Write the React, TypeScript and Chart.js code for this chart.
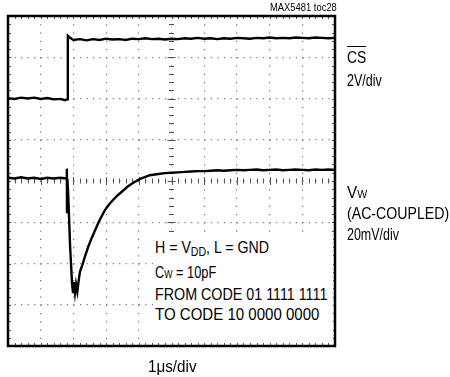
import React, { useEffect, useLayoutEffect, useRef } from "react";
import { Chart, registerables } from "chart.js";

Chart.register(...registerables);

// Time axis in divisions (1 µs/div), vertical axis in divisions (centre = 0)
const csTime = [0, 0.2, 0.4, 0.6, 0.8, 1.0, 1.2, 1.4, 1.6, 1.75, 1.81, 1.83, 1.9, 2.0, 2.2, 2.4, 2.6, 2.8, 3.0, 3.2, 3.4, 3.6, 3.8, 4.0, 4.2, 4.4, 4.6, 4.8, 5.0, 5.2, 5.4, 5.6, 5.8, 6.0, 6.2, 6.4, 6.6, 6.8, 7.0, 7.2, 7.4, 7.6, 7.8, 8.0, 8.2, 8.4, 8.6, 8.8, 9.0, 9.2, 9.4, 9.6, 9.8, 10];
const csLevel = [2.01, 1.99, 2.02, 2.0, 2.02, 1.99, 2.01, 1.98, 1.99, 1.96, 1.98, 3.52, 3.47, 3.42, 3.44, 3.41, 3.44, 3.42, 3.45, 3.43, 3.44, 3.42, 3.45, 3.44, 3.46, 3.44, 3.45, 3.43, 3.45, 3.44, 3.46, 3.45, 3.47, 3.45, 3.46, 3.44, 3.46, 3.45, 3.47, 3.46, 3.45, 3.47, 3.46, 3.48, 3.46, 3.47, 3.46, 3.48, 3.47, 3.46, 3.48, 3.47, 3.46, 3.47];

const vwTime = [0, 0.2, 0.4, 0.6, 0.8, 1.0, 1.2, 1.4, 1.6, 1.78, 1.8, 1.805, 1.815, 1.84, 1.9, 1.96, 1.99, 2.02, 2.05, 2.08, 2.12, 2.16, 2.2, 2.28, 2.35, 2.45, 2.56, 2.66, 2.76, 2.86, 2.97, 3.09, 3.21, 3.35, 3.48, 3.65, 3.82, 4.04, 4.2, 4.34, 4.6, 4.8, 5.0, 5.2, 5.4, 5.6, 5.8, 6.0, 6.2, 6.4, 6.6, 6.8, 7.0, 7.2, 7.4, 7.6, 7.8, 8.0, 8.2, 8.4, 8.6, 8.8, 9.0, 9.2, 9.4, 9.6, 9.8, 10];
const vwLevel = [0.08, 0.06, 0.09, 0.06, 0.08, 0.05, 0.08, 0.06, 0.08, 0.06, 0.3, -0.75, 0.05, -0.3, -1.6, -2.5, -2.72, -2.45, -2.7, -2.5, -2.68, -2.42, -2.2, -2.02, -1.84, -1.6, -1.38, -1.2, -1.02, -0.86, -0.7, -0.57, -0.46, -0.35, -0.26, -0.14, -0.05, 0.05, 0.1, 0.14, 0.17, 0.19, 0.2, 0.21, 0.22, 0.23, 0.24, 0.24, 0.25, 0.26, 0.25, 0.26, 0.27, 0.26, 0.27, 0.28, 0.26, 0.27, 0.28, 0.26, 0.27, 0.28, 0.27, 0.26, 0.28, 0.27, 0.28, 0.27];

const xDivisions = 10;
const yHalfDivisions = 4;

const scopeGrid = {
  id: "scopeGrid",
  beforeDatasetsDraw(chart: any) {
    const { ctx, chartArea: a, scales } = chart;
    const x = scales.x;
    const y = scales.y;
    const xc = x.getPixelForValue(xDivisions / 2);
    const yc = y.getPixelForValue(0);
    ctx.save();
    ctx.strokeStyle = "#555";
    ctx.lineWidth = 1;
    const seg = (x1: number, y1: number, x2: number, y2: number) => {
      ctx.beginPath();
      ctx.moveTo(x1, y1);
      ctx.lineTo(x2, y2);
      ctx.stroke();
    };
    for (let i = 0; i <= xDivisions * 5; i++) {
      const px = Math.round(x.getPixelForValue(i / 5)) + 0.5;
      const len = i % 5 === 0 ? 4 : 2.5;
      seg(px, yc - len, px, yc + len);
      seg(px, a.bottom, px, a.bottom - 3);
      seg(px, a.top, px, a.top + 3);
    }
    for (let j = -yHalfDivisions * 5; j <= yHalfDivisions * 5; j++) {
      const py = Math.round(y.getPixelForValue(j / 5)) + 0.5;
      const len = j % 5 === 0 ? 4 : 2.5;
      seg(xc - len, py, xc + len, py);
      seg(a.left, py, a.left + 3, py);
      seg(a.right, py, a.right - 3, py);
    }
    ctx.restore();
  },
  afterDatasetsDraw(chart: any) {
    const { ctx, chartArea: a } = chart;
    ctx.save();
    ctx.strokeStyle = "#000";
    ctx.lineWidth = 2.5;
    ctx.strokeRect(a.left, a.top, a.right - a.left, a.bottom - a.top);
    ctx.restore();
  },
};

const FONT = "'Liberation Sans', Arial, sans-serif";

const baseText: React.CSSProperties = {
  position: "absolute",
  fontFamily: FONT,
  fontSize: "16.8px",
  lineHeight: 1,
  color: "#000",
  whiteSpace: "nowrap",
};

function FitText(props: { width: number; style: React.CSSProperties; origin?: string; children: React.ReactNode }) {
  const ref = useRef<HTMLDivElement | null>(null);
  useLayoutEffect(() => {
    const el = ref.current;
    if (!el) return;
    const w = el.offsetWidth;
    if (w > 0) el.style.transform = `scaleX(${props.width / w})`;
  });
  return (
    <div ref={ref} style={{ ...baseText, ...props.style, transformOrigin: props.origin || "0 0" }}>
      {props.children}
    </div>
  );
}

export default function App() {
  const canvasRef = useRef<HTMLCanvasElement | null>(null);

  useEffect(() => {
    const canvas = canvasRef.current;
    if (!canvas) return;
    const chart = new Chart(canvas, {
      type: "line",
      data: {
        datasets: [
          {
            label: "CS",
            data: csTime.map((t, i) => ({ x: t, y: csLevel[i] })),
            borderColor: "#000",
            borderWidth: 2.4,
            pointRadius: 0,
            tension: 0,
          },
          {
            label: "VW",
            data: vwTime.map((t, i) => ({ x: t, y: vwLevel[i] })),
            borderColor: "#000",
            borderWidth: 2.4,
            pointRadius: 0,
            tension: 0,
          },
        ],
      },
      options: {
        animation: false,
        responsive: false,
        events: [],
        layout: { padding: { left: 8, top: 16, right: 115, bottom: 31 } },
        plugins: { legend: { display: false }, tooltip: { enabled: false } },
        scales: {
          x: {
            type: "linear",
            min: 0,
            max: xDivisions,
            ticks: { display: false, stepSize: 1 },
            grid: { color: "#777", lineWidth: 1.2, drawTicks: false },
            border: { display: false, dash: [1.2, 7.05] },
          },
          y: {
            type: "linear",
            min: -yHalfDivisions,
            max: yHalfDivisions,
            ticks: { display: false, stepSize: 1 },
            grid: { color: "#777", lineWidth: 1.2, drawTicks: false },
            border: { display: false, dash: [1.2, 5.34] },
          },
        },
      },
      plugins: [scopeGrid],
    });
    return () => chart.destroy();
  }, []);

  return (
    <div style={{ position: "fixed", left: 0, top: 0, width: 450, height: 377, background: "#fff", overflow: "hidden" }}>
      <canvas ref={canvasRef} width={450} height={377} style={{ position: "absolute", left: 0, top: 0 }} />
      <FitText width={67} origin="100% 0" style={{ fontSize: "11.5px", right: 113, top: 1.5 }}>MAX5481 toc28</FitText>

      <FitText width={19} style={{ left: 347, top: 46, borderTop: "1.5px solid #000", paddingTop: 2.5 }}>CS</FitText>
      <FitText width={35} style={{ left: 347, top: 73 }}>2V/div</FitText>
      <FitText width={20} style={{ left: 347, top: 185 }}>
        V<span style={{ fontSize: "11.6px" }}>W</span>
      </FitText>
      <FitText width={102} style={{ left: 347, top: 206 }}>(AC-COUPLED)</FitText>
      <FitText width={52} style={{ left: 347, top: 227 }}>20mV/div</FitText>

      <div style={{ position: "absolute", left: 153, top: 236, width: 180, height: 103, background: "#fff" }} />
      <FitText width={114} style={{ left: 155, top: 239.5 }}>
        H = V<span style={{ fontSize: "12.5px", verticalAlign: "-3px" }}>DD</span>, L = GND
      </FitText>
      <FitText width={61} style={{ left: 155, top: 264.5 }}>
        C<span style={{ fontSize: "11.5px" }}>W</span> = 10pF
      </FitText>
      <FitText width={172} style={{ left: 155, top: 287 }}>FROM CODE 01 1111 1111</FitText>
      <FitText width={164} style={{ left: 155, top: 307 }}>TO CODE 10 0000 0000</FitText>

      <FitText width={49} style={{ left: 148, top: 358.8 }}>1μs/div</FitText>
    </div>
  );
}
